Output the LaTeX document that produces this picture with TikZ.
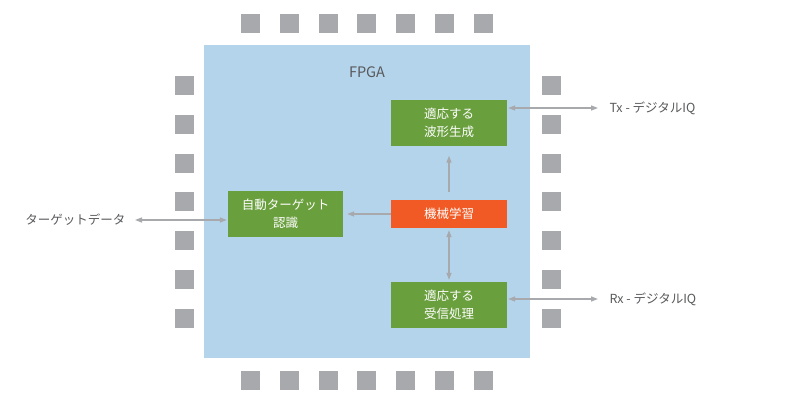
\documentclass[tikz,border=0pt]{standalone}
\usepackage{fontspec}
\setmainfont{Noto Sans CJK JP}
\usetikzlibrary{positioning,arrows.meta}
\definecolor{fpga}{HTML}{B4D4EB}
\definecolor{blockg}{HTML}{6A9F3E}
\definecolor{mlred}{HTML}{F15A24}
\definecolor{pingrey}{HTML}{A7A9AC}
\definecolor{txt}{HTML}{58595B}

\begin{document}
\begin{tikzpicture}[x=1pt, y=-1pt, every node/.style={font=\fontsize{12.5}{18}\selectfont, text=txt}, block/.style={fill=blockg, text=white, minimum width=116pt, minimum height=46pt, inner sep=0pt, align=center}, link/.style={draw=pingrey, line width=1.3pt}, >={Triangle[length=7pt, width=5pt]}]
\useasboundingbox (0,0) rectangle (800,410);
% chip body and pins
\fill[fpga] (204,45) rectangle (530,358);
\foreach \i in {0,...,6} {
  \fill[pingrey] (241+38.8*\i,14) rectangle ++(19,19);
  \fill[pingrey] (241+38.8*\i,371) rectangle ++(19,19);
  \fill[pingrey] (175,76+38.8*\i) rectangle ++(19,19);
  \fill[pingrey] (542,76+38.8*\i) rectangle ++(19,19);
}
\node[font=\fontsize{14.5}{18}\selectfont] (fpga) at (367,72) {FPGA};
\node[block] (tx) at (449,122.5) {適応する\\波形生成};
\node[block, fill=mlred, minimum height=28pt] (ml) at (449,214) {機械学習};
\node[block] (rx) at (449,305) {適応する\\受信処理};
\node[block, minimum width=115pt] (atr) at (285.5,214) {自動ターゲット\\認識};
\node[anchor=east] (tdata) at (129,220) {ターゲットデータ};
\node[anchor=west] (txio) at (606,108) {Tx - デジタルIQ};
\node[anchor=west] (rxio) at (606,299) {Rx - デジタルIQ};
\draw[link, ->, shorten <=8pt, shorten >=10pt] (ml) -- (tx);
\draw[link, <->, shorten <=2pt, shorten >=2pt] (ml) -- (rx);
\draw[link, ->, shorten >=4pt] (ml) -- (atr);
\draw[link, <->, shorten <=6pt, shorten >=1pt] (tdata.east) -- (tdata.east -| atr.west);
\draw[link, <->, shorten <=1pt, shorten >=8pt] (txio.west -| tx.east) -- (txio.west);
\draw[link, <->, shorten <=1pt, shorten >=8pt] (rxio.west -| rx.east) -- (rxio.west);
\end{tikzpicture}
\end{document}
